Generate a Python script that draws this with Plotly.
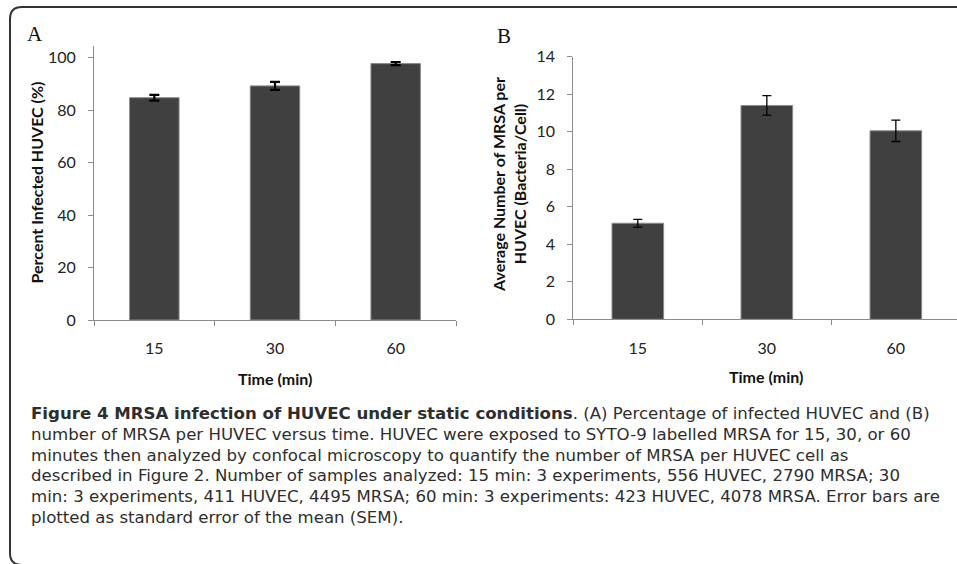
import plotly.graph_objects as go

W, H = 957, 564

# ---- data ----
times = ["15", "30", "60"]
pct_infected = [84.7, 89.2, 97.7]
pct_sem = [1.1, 1.5, 0.6]
mrsa_per_cell = [5.12, 11.4, 10.05]
mrsa_sem = [0.21, 0.52, 0.57]

y_ticks_a = [0, 20, 40, 60, 80, 100]
y_ticks_b = [0, 2, 4, 6, 8, 10, 12, 14]

caption_lines = [
    "<b>Figure 4 MRSA infection of HUVEC under static conditions</b>. (A) Percentage of infected HUVEC and (B)",
    "number of MRSA per HUVEC versus time. HUVEC were exposed to SYTO-9 labelled MRSA for 15, 30, or 60",
    "minutes then analyzed by confocal microscopy to quantify the number of MRSA per HUVEC cell as",
    "described in Figure 2. Number of samples analyzed: 15 min: 3 experiments, 556 HUVEC, 2790 MRSA; 30",
    "min: 3 experiments, 411 HUVEC, 4495 MRSA; 60 min: 3 experiments: 423 HUVEC, 4078 MRSA. Error bars are",
    "plotted as standard error of the mean (SEM).",
]


def px(x):
    return x / W


def py(y):
    return 1 - y / H


BAR = "#404040"
EDGE = "#8a8a8a"
AXIS = "#8c8c8c"
TICKFONT = dict(family="Lato", size=16, color="#222222")
TITLEFONT = dict(family="Lato", size=16, color="#111111")

fig = go.Figure()

fig.add_trace(go.Bar(
    x=times, y=pct_infected, width=0.41,
    marker=dict(color=BAR, line=dict(color=EDGE, width=1)),
    error_y=dict(type="data", array=pct_sem, color="#000000", thickness=2.2, width=5),
    xaxis="x", yaxis="y", showlegend=False,
))
fig.add_trace(go.Bar(
    x=times, y=mrsa_per_cell, width=0.40,
    marker=dict(color=BAR, line=dict(color=EDGE, width=1)),
    error_y=dict(type="data", array=mrsa_sem, color="#000000", thickness=1.3, width=4.5),
    xaxis="x2", yaxis="y2", showlegend=False,
))

common_x = dict(
    type="category", showline=True, linecolor=AXIS, linewidth=1,
    ticks="outside", tickson="boundaries", ticklen=5, tickcolor=AXIS, tickwidth=1,
    tickfont=TICKFONT, showgrid=False, zeroline=False, ticklabelstandoff=14,
    fixedrange=True, automargin=False,
)
common_y = dict(
    showline=True, linecolor=AXIS, linewidth=1,
    ticks="outside", ticklen=5, tickcolor=AXIS, tickwidth=1,
    tickfont=TICKFONT, showgrid=False, zeroline=False, ticklabelstandoff=9,
    fixedrange=True, automargin=False,
)

fig.update_layout(
    template="none",
    width=W, height=H,
    margin=dict(l=0, r=0, t=0, b=0, pad=0, autoexpand=False),
    paper_bgcolor="white", plot_bgcolor="white",
    xaxis=dict(common_x, domain=[px(94), px(456)], range=[-0.5, 2.5], anchor="y"),
    yaxis=dict(common_y, domain=[py(320), py(46)], range=[0, 104.4],
               tickvals=y_ticks_a, anchor="x"),
    xaxis2=dict(common_x, domain=[px(573.3), 1.0], range=[-0.5, 2.474], anchor="y2"),
    yaxis2=dict(common_y, domain=[py(319.3), py(56.7)], range=[0, 14],
                tickvals=y_ticks_b, anchor="x2"),
    bargap=0.6,
    showlegend=False,
)

ann = []
# panel letters
ann.append(dict(text="A", x=px(35), y=py(34), font=dict(family="Liberation Serif", size=21, color="#111")))
ann.append(dict(text="B", x=px(504.5), y=py(36.5), font=dict(family="Liberation Serif", size=21, color="#111")))
# axis titles
ann.append(dict(text="<b>Percent Infected HUVEC (%)</b>", x=px(36), y=py(182.5), textangle=-90, font=TITLEFONT))
ann.append(dict(text="<b>Time (min)</b>", x=px(274.5), y=py(378), font=TITLEFONT))
ann.append(dict(text="<b>Average Number of MRSA per<br>HUVEC (Bacteria/Cell)</b>", x=px(509), y=py(185),
                textangle=-90, font=TITLEFONT))
ann.append(dict(text="<b>Time (min)</b>", x=px(766), y=py(376), font=TITLEFONT))

for a in ann:
    a.update(xref="paper", yref="paper", showarrow=False, xanchor="center", yanchor="middle")

# caption: one text block; base font sets the line pitch (1.3 em ~ 20.8 px)
line_pitch = 20.8
base = line_pitch / 1.3
caption_html = "<br>".join(
    f'<span style="font-size:16.6px">{t}</span>' for t in caption_lines
)
first_line_y = 413
block_center = first_line_y + (len(caption_lines) - 1) * line_pitch / 2
ann.append(dict(text=caption_html, x=px(29), y=py(block_center), xref="paper", yref="paper",
                showarrow=False, xanchor="left", yanchor="middle", align="left",
                font=dict(family="DejaVu Sans", size=base, color="#2e2e2e")))

fig.update_layout(annotations=ann)

# rounded frame around the figure (extends beyond right & bottom edges)
path = (f"M {px(975)},{py(7)} L {px(22)},{py(7)} Q {px(10)},{py(7)} {px(10)},{py(19)} "
        f"L {px(10)},{py(553)} Q {px(10)},{py(565)} {px(22)},{py(565)} L {px(975)},{py(565)}")
fig.add_shape(type="path", path=path, xref="paper", yref="paper",
              line=dict(color="#333333", width=2))

fig.write_html("out.html")
